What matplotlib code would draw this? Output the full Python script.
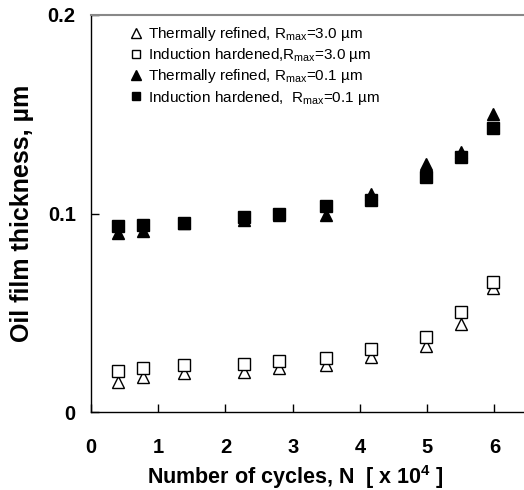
import matplotlib
matplotlib.use("Agg")
from matplotlib import pyplot as plt

plt.rcParams['font.family'] = ['Liberation Sans', 'DejaVu Sans']
plt.rcParams['mathtext.default'] = 'regular'

# cycles [x 10^4]
N = [0.40, 0.78, 1.39, 2.27, 2.79, 3.50, 4.16, 4.98, 5.50, 5.98]

# oil film thickness, um
thermal_3 = [0.0153, 0.0178, 0.0195, 0.0202, 0.0220, 0.0237, 0.0276, 0.0334, 0.0442, 0.0625]
induction_3 = [0.0208, 0.0223, 0.0237, 0.0242, 0.0257, 0.0271, 0.0316, 0.0376, 0.0502, 0.0655]
thermal_01 = [0.0900, 0.0912, 0.0950, 0.0967, 0.0995, 0.0993, 0.1100, 0.1250, 0.1310, 0.1500]
induction_01 = [0.0937, 0.0942, 0.0954, 0.0984, 0.0998, 0.1038, 0.1068, 0.1186, 0.1287, 0.1430]

LABELS = [
  "Thermally refined, R$_{max}$=3.0 µm",
  "Induction hardened,R$_{max}$=3.0 µm",
  "Thermally refined, R$_{max}$=0.1 µm",
  "Induction hardened,  R$_{max}$=0.1 µm",
]

fig = plt.figure(figsize=(5.24, 4.90), dpi=100)
ax = fig.add_axes([0.1737, 0.159, 0.8263, 0.8104])

ms = 8.5
ax.plot(N, thermal_3, linestyle="none", marker="^", markersize=ms, markerfacecolor="white", markeredgecolor="black", markeredgewidth=1, label=LABELS[0])
ax.plot(N, induction_3, linestyle="none", marker="s", markersize=ms - 0.5, markerfacecolor="white", markeredgecolor="black", markeredgewidth=1, label=LABELS[1])
ax.plot(N, thermal_01, linestyle="none", marker="^", markersize=ms, color="black", label=LABELS[2])
ax.plot(N, induction_01, linestyle="none", marker="s", markersize=ms - 0.5, color="black", label=LABELS[3])

ax.set_xlim(0, 6.44)
ax.set_ylim(0, 0.2)
ax.set_xticks([0, 1, 2, 3, 4, 5, 6])
ax.set_xticklabels(["0", "1", "2", "3", "4", "5", "6"])
ax.set_yticks([0, 0.1, 0.2])
ax.set_yticklabels(["0", "0.1", "0.2"])

ax.spines["right"].set_visible(False)
ax.spines["top"].set_color("#888888")
ax.spines["top"].set_linewidth(1.5)
ax.spines["left"].set_linewidth(1)
ax.spines["bottom"].set_linewidth(1)

ax.tick_params(axis="x", direction="in", length=6, width=1, pad=19, labelsize=14.5)
ax.tick_params(axis="y", direction="in", length=6, width=1, pad=11, labelsize=14.5)
for t in ax.get_xticklabels() + ax.get_yticklabels():
  t.set_fontweight("bold")

ax.set_xlabel("Number of cycles, N  [ x 10$^{4}$ ]", fontsize=15.5, fontweight="bold")
ax.xaxis.set_label_coords(0.473, -0.128)
ax.set_ylabel("Oil film thickness, µm", fontsize=18, fontweight="bold", labelpad=10)

ax.legend(loc="upper left", bbox_to_anchor=(0.065, 0.997), frameon=False, fontsize=11,
          markerscale=0.8, handletextpad=0.3, handlelength=1.0, labelspacing=0.2, borderaxespad=0.2)

plt.savefig("out.png", dpi=100)
